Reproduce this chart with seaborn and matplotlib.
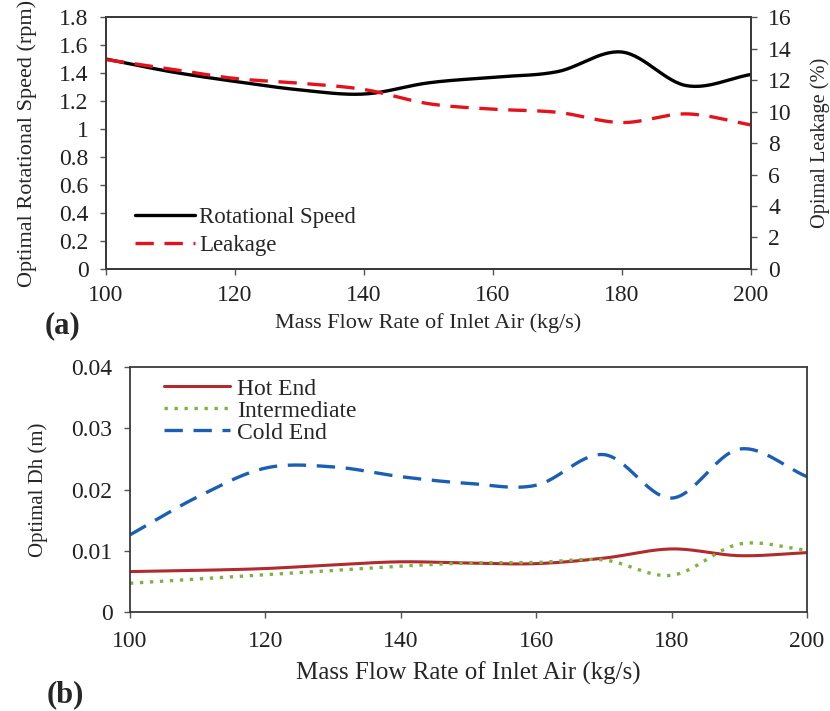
import numpy as np
import pandas as pd
import matplotlib
matplotlib.use("Agg")
import matplotlib.pyplot as plt
import seaborn as sns

# Mass flow rate of inlet air (kg/s)
flow = [100, 110, 120, 130, 140, 150, 160, 170, 180, 190, 200]

# (a) optimal rotational speed (rpm) and leakage (%)
rot_speed = [1.50, 1.41, 1.34, 1.28, 1.25, 1.33, 1.37, 1.41, 1.55, 1.31, 1.39]
leakage = [13.3, 12.7, 12.1, 11.8, 11.4, 10.5, 10.15, 9.95, 9.3, 9.85, 9.15]

# (b) optimal hydraulic diameter (m)
hot_end = [0.0066, 0.0068, 0.0071, 0.0077, 0.0082, 0.0080, 0.0079, 0.0088, 0.0103, 0.0092, 0.0097]
intermediate = [0.0047, 0.0054, 0.0061, 0.0068, 0.0075, 0.0080, 0.0081, 0.0085, 0.0060, 0.0111, 0.0101]
cold_end = [0.0126, 0.0188, 0.0235, 0.0237, 0.0221, 0.0210, 0.0207, 0.0257, 0.0186, 0.0266, 0.0221]


def smooth(x, y, n=30):
    """Catmull-Rom smoothed line through the points (spreadsheet-style smoothing)."""
    x = np.asarray(x, float)
    y = np.asarray(y, float)
    px = np.concatenate([[2 * x[0] - x[1]], x, [2 * x[-1] - x[-2]]])
    py = np.concatenate([[2 * y[0] - y[1]], y, [2 * y[-1] - y[-2]]])
    xs, ys = [], []
    t = np.linspace(0, 1, n, endpoint=False)
    for i in range(1, len(px) - 2):
        for arr, out in ((px, xs), (py, ys)):
            p0, p1, p2, p3 = arr[i - 1], arr[i], arr[i + 1], arr[i + 2]
            out.append(0.5 * ((2 * p1) + (-p0 + p2) * t
                              + (2 * p0 - 5 * p1 + 4 * p2 - p3) * t ** 2
                              + (-p0 + 3 * p1 - 3 * p2 + p3) * t ** 3))
    xs = np.concatenate(xs + [[x[-1]]])
    ys = np.concatenate(ys + [[y[-1]]])
    return pd.DataFrame({"flow": xs, "value": ys})


sns.set_style("ticks")
plt.rcParams["font.family"] = ["Liberation Serif", "DejaVu Serif"]
plt.rcParams["axes.edgecolor"] = "#3a3a3a"
plt.rcParams["xtick.color"] = "#555555"
plt.rcParams["ytick.color"] = "#555555"
plt.rcParams["xtick.labelcolor"] = "#222222"
plt.rcParams["ytick.labelcolor"] = "#222222"

fig = plt.figure(figsize=(8.30, 7.11), dpi=100)
ax1 = fig.add_axes([0.1277, 0.6217, 0.7771, 0.3543])
ax2 = fig.add_axes([0.1566, 0.1392, 0.8157, 0.3446])

tick_fs = 17
DASH = [5.5, 3.2]
DOT = [1, 2.0]

# ---- (a) ----
sns.lineplot(data=smooth(flow, rot_speed), x="flow", y="value", ax=ax1,
             color="black", lw=2.4, legend=False)
ax1r = ax1.twinx()
sns.lineplot(data=smooth(flow, leakage), x="flow", y="value", ax=ax1r,
             color="#e3121b", lw=2.4, legend=False)
ax1r.lines[0].set_dashes(DASH)

ax1.set_xlim(100, 200)
ax1.set_ylim(0, 1.8)
ax1.set_yticks(np.arange(0, 1.81, 0.2))
ax1.set_yticklabels(["0", "0.2", "0.4", "0.6", "0.8", "1", "1.2", "1.4", "1.6", "1.8"])
ax1.set_xticks(range(100, 201, 20))
ax1r.set_ylim(0, 16)
ax1r.set_yticks(range(0, 17, 2))
ax1.set_xlabel("Mass Flow Rate of Inlet Air (kg/s)", fontsize=16, labelpad=5)
ax1.set_ylabel("Optimal Rotational Speed (rpm)", fontsize=16, labelpad=16)
ax1r.set_ylabel("Opimal Leakage (%)", fontsize=14.6, labelpad=13)
for a in (ax1, ax1r):
    a.tick_params(labelsize=tick_fs, length=4.5, width=1, pad=8)
    for s in a.spines.values():
        s.set_visible(True)
        s.set_linewidth(1.3)
ax1.tick_params(axis="x", pad=7)

h = [ax1.get_lines()[0], ax1r.get_lines()[0]]
ax1r.legend(h, ["Rotational Speed", "Leakage"], loc="lower left",
            bbox_to_anchor=(0.045, 0.05), frameon=False, fontsize=16.5,
            handlelength=2.6, handletextpad=0.2, labelspacing=0.3,
            borderaxespad=0, borderpad=0)

fig.text(0.054, 0.531, "(a)", fontsize=22, fontweight="bold")

# ---- (b) ----
sns.lineplot(data=smooth(flow, hot_end), x="flow", y="value", ax=ax2,
             color="#b02a2e", lw=2.2, label="Hot End")
sns.lineplot(data=smooth(flow, intermediate), x="flow", y="value", ax=ax2,
             color="#7cb342", lw=2.4, label="Intermediate")
sns.lineplot(data=smooth(flow, cold_end), x="flow", y="value", ax=ax2,
             color="#1a5fb4", lw=2.4, label="Cold End")
ax2.lines[1].set_dashes(DOT)
ax2.lines[2].set_dashes(DASH)

ax2.set_xlim(100, 200)
ax2.set_ylim(0, 0.04)
ax2.set_yticks([0, 0.01, 0.02, 0.03, 0.04])
ax2.set_yticklabels(["0", "0.01", "0.02", "0.03", "0.04"])
ax2.set_xticks(range(100, 201, 20))
ax2.tick_params(labelsize=tick_fs, length=4.5, width=1, pad=8)
ax2.tick_params(axis="x", pad=9)
for s in ax2.spines.values():
    s.set_visible(True)
    s.set_linewidth(1.3)
ax2.set_xlabel("Mass Flow Rate of Inlet Air (kg/s)", fontsize=18, labelpad=7)
ax2.set_ylabel("Optimal Dh (m)", fontsize=15, labelpad=17)
h2 = ax2.lines[:3]
ax2.legend(h2, ["Hot End", "Intermediate", "Cold End"], loc="upper left",
           bbox_to_anchor=(0.05, 0.955), frameon=False, fontsize=17,
           handlelength=2.8, handletextpad=0.3, labelspacing=0.02,
           borderaxespad=0, borderpad=0)

fig.text(0.056, 0.012, "(b)", fontsize=22, fontweight="bold")

fig.savefig("out.png", dpi=100)
